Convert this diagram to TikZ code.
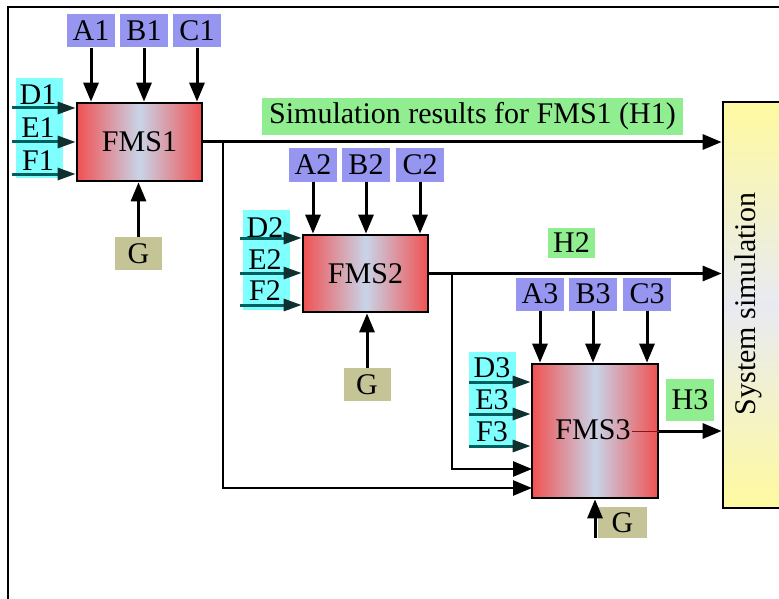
\documentclass[tikz,border=0pt]{standalone}
\usepackage{fontspec}
\setmainfont{Liberation Serif}
\usetikzlibrary{arrows.meta}
\definecolor{fmsred}{RGB}{240,82,82}
\definecolor{fmsmid}{RGB}{200,212,232}
\definecolor{abcblue}{RGB}{150,150,240}
\definecolor{defcyan}{RGB}{128,255,255}
\definecolor{hgreen}{RGB}{144,238,144}
\definecolor{gkhaki}{RGB}{196,196,150}
\definecolor{sysyellow}{RGB}{255,250,160}
\definecolor{sysmid}{RGB}{232,234,242}
\definecolor{tealline}{RGB}{0,96,96}
\definecolor{tealhead}{RGB}{16,48,48}
\definecolor{thinred}{RGB}{140,20,20}
\newcommand{\fbig}{\fontsize{30}{36}\selectfont}
\begin{document}
\begin{tikzpicture}[x=1pt,y=-1pt,
 fmsbox/.style={draw, line width=2.7pt, left color=fmsred, right color=fmsred, middle color=fmsmid, minimum width=125pt, inner sep=0pt, font=\fbig},
 abc/.style={fill=abcblue, minimum width=48pt, minimum height=33pt, inner sep=0pt, font=\fbig},
 defbox/.style={fill=defcyan, minimum width=47pt, minimum height=100pt, inner sep=0pt},
 deflbl/.style={inner sep=0pt, font=\fbig},
 gbox/.style={fill=gkhaki, minimum width=47pt, minimum height=33pt, inner sep=0pt, font=\fbig},
 hbox/.style={fill=hgreen, minimum height=32pt, minimum width=47pt, inner sep=0pt, font=\fbig},
 arr/.style={line width=3pt, -{Triangle[length=19pt,width=15pt]}},
 tarr/.style={line width=3pt, draw=tealline, -{Triangle[length=18pt,width=12pt,color=tealhead]}},
]
\useasboundingbox (0,0) rectangle (779,599);
\clip (0,0) rectangle (779,599);
% frame
\draw[line width=2pt] (8,610) -- (8,7) -- (790,7);

% system simulation
\node[draw, line width=2.7pt, top color=sysyellow, bottom color=sysyellow, middle color=sysmid, minimum width=67pt, minimum height=406pt, inner sep=0pt] (sys) at (756.5,305) {};
\node[rotate=90, font=\fbig, inner sep=0pt] (systext) at (748,304) {System simulation};

% FMS boxes
\node[fmsbox, minimum height=78pt] (fms1) at (139.5,142) {FMS1};
\node[fmsbox, minimum height=77pt] (fms2) at (365.5,273.5) {FMS2};
\node[fmsbox, minimum width=126pt, minimum height=134pt] (fms3) at (595,431) {};
\node[font=\fbig, inner sep=0pt] (fms3t) at (593,430) {FMS3};

% A B C
\node[abc] (a1) at (91,31) {A1};
\node[abc] (b1) at (144,31) {B1};
\node[abc] (c1) at (197,31) {C1};
\node[abc] (a2) at (313,165) {A2};
\node[abc] (b2) at (366,165) {B2};
\node[abc] (c2) at (420,165) {C2};
\node[abc] (a3) at (540,294) {A3};
\node[abc] (b3) at (593,294) {B3};
\node[abc] (c3) at (647,294) {C3};
\foreach \n/\f in {a1/fms1,b1/fms1,c1/fms1,a2/fms2,b2/fms2,c2/fms2,a3/fms3,b3/fms3,c3/fms3}
  \draw[arr] (\n.south) -- (\n.south |- \f.north);

% D E F groups
\node[defbox] (def1) at (39,128) {};
\node[deflbl] (d1) at (38,95) {D1};
\node[deflbl] (e1) at (38,128) {E1};
\node[deflbl] (f1) at (38,161) {F1};
\node[defbox] (def2) at (266,260) {};
\node[deflbl] (d2) at (265,228) {D2};
\node[deflbl] (e2) at (265,260) {E2};
\node[deflbl] (f2) at (265,291) {F2};
\node[defbox, minimum height=96pt] (def3) at (492.5,400) {};
\node[deflbl] (d3) at (492,368) {D3};
\node[deflbl] (e3) at (492,400) {E3};
\node[deflbl] (f3) at (492,432) {F3};
\coordinate (d1s) at (12,108);
\coordinate (e1s) at (12,142);
\coordinate (f1s) at (12,174);
\coordinate (d2s) at (240,238);
\coordinate (e2s) at (240,273);
\coordinate (f2s) at (240,305);
\coordinate (d3s) at (469,382);
\coordinate (e3s) at (469,414);
\coordinate (f3s) at (469,446);
\foreach \s/\f in {d1s/fms1,e1s/fms1,f1s/fms1,d2s/fms2,e2s/fms2,f2s/fms2,d3s/fms3,e3s/fms3,f3s/fms3}
  \draw[tarr] (\s) -- (\s -| \f.west);

% G inputs
\node[gbox] (g1) at (138.5,253.5) {G};
\node[gbox] (g2) at (367,384.5) {G};
\node[gbox, minimum width=49pt, minimum height=31pt] (g3) at (622.5,522.5) {G};
\draw[arr] (g1.north) -- (g1.north |- fms1.south);
\draw[arr] (g2.north) -- (g2.north |- fms2.south);
\coordinate (g3s) at (595,538);
\draw[arr] (g3s) -- (g3s |- fms3.south);

% H labels
\node[hbox, minimum width=421pt, minimum height=37pt] (h1) at (472.5,116.5) {Simulation results for FMS1 (H1)};
\node[hbox, minimum height=30pt] (h2) at (571.5,243) {H2};
\node[hbox, minimum width=48pt, minimum height=42pt] (h3) at (690,400) {H3};

% outputs
\draw[arr] (fms1.east) -- (fms1.east -| sys.west);
\draw[arr] (fms2.east) -- (fms2.east -| sys.west);
\coordinate (t3) at (632,431);
\draw[thinred, line width=1pt] (t3) -- (fms3.east);
\draw[arr] (fms3.east) -- (fms3.east -| sys.west);

% branches to FMS3
\coordinate (br1) at (223,142);
\coordinate (br2) at (452,273.5);
\coordinate (in1) at (532,488);
\coordinate (in2) at (532,469);
\draw[arr, line width=2.5pt] (br1) |- (in1);
\draw[arr, line width=2.5pt] (br2) |- (in2);
\end{tikzpicture}
\end{document}
